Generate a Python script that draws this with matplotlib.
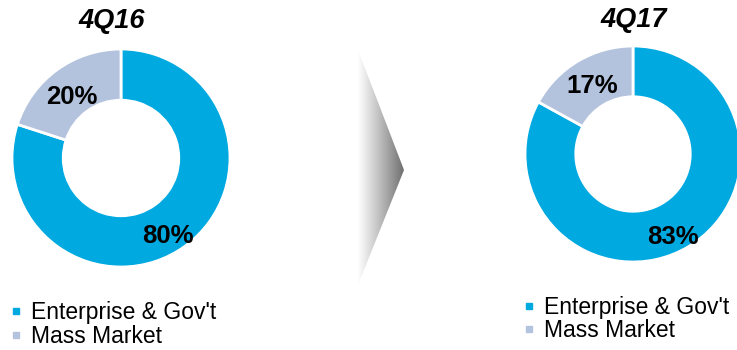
import numpy as np
import matplotlib
matplotlib.use("Agg")
from matplotlib import pyplot as plt
from matplotlib.patches import Polygon

plt.rcParams['font.family'] = ['Liberation Sans', 'DejaVu Sans']

# data
categories = ["Enterprise & Gov't", "Mass Market"]
periods = ["4Q16", "4Q17"]
shares_4q16 = [80, 20]
shares_4q17 = [83, 17]
colors = ['#00A9E0', '#B4C3DD']

W, H = 737, 350
fig = plt.figure(figsize=(W / 100, H / 100), dpi=100)

# (center x, center y, radius) in pixels, label offsets in data units, title pos
donuts = [
    (121, 158, 109, shares_4q16, [(0.43, -0.72), (-0.45, 0.56)], 112, 21),
    (633, 154, 108, shares_4q17, [(0.37, -0.77), (-0.38, 0.63)], 634, 20),
]

for k, (cx, cy, r, vals, lpos, tx, ty) in enumerate(donuts):
    ax = fig.add_axes([(cx - r) / W, 1 - (cy + r) / H, 2 * r / W, 2 * r / H])
    ax.pie(vals, colors=colors, startangle=90, counterclock=False,
           wedgeprops=dict(width=0.47, edgecolor='white', linewidth=2))
    ax.set_xlim(-1, 1)
    ax.set_ylim(-1, 1)
    ax.set_aspect('equal')
    ax.axis('off')
    for v, (lx, ly) in zip(vals, lpos):
        ax.text(lx, ly, f"{v}%", ha='center', va='center',
                fontsize=18.5, fontweight='bold', color='black')
    fig.text(tx / W, 1 - ty / H, periods[k], ha='center', va='center',
             fontsize=19.5, fontweight='bold', fontstyle='italic')

# overlay axes in pixel coords for the arrow
ov = fig.add_axes([0, 0, 1, 1])
ov.axis('off')

# gradient chevron
xs = np.linspace(0, 1, 200)
grad = 1 - 0.58 * xs ** 1.1
img = np.tile(grad, (10, 1))
im = ov.imshow(img, cmap='gray', vmin=0, vmax=1, aspect='auto',
               extent=[357, 405, 286, 48], interpolation='bilinear')
tri = Polygon([(358, 50), (404, 170), (358, 285)], closed=True,
              facecolor='none', edgecolor='none', transform=ov.transData)
ov.add_patch(tri)
im.set_clip_path(tri)
ov.set_xlim(0, W)
ov.set_ylim(H, 0)

# legends
handles = [plt.Line2D([], [], marker='s', linestyle='none', markersize=4.5,
                      color=c) for c in colors]
for (lx, ly, sp) in [(9, 301, 0.06), (522, 296, 0.0)]:
    fig.legend(handles, categories, loc='upper left',
               bbox_to_anchor=(lx / W, 1 - ly / H), frameon=False,
               fontsize=16.5, handlelength=0.6, handletextpad=0.35,
               labelspacing=sp, borderpad=0, borderaxespad=0)

fig.savefig('out.png', dpi=100)
